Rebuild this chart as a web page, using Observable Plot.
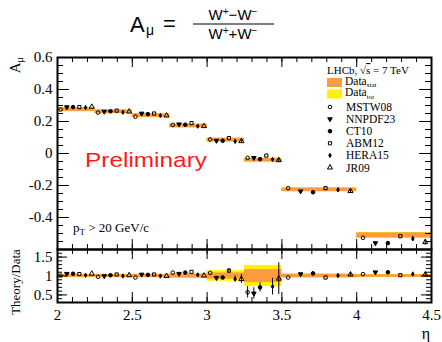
<!DOCTYPE html>
<html><head><meta charset="utf-8">
<script src="https://cdn.jsdelivr.net/npm/d3@7"></script>
<script src="https://cdn.jsdelivr.net/npm/@observablehq/plot@0.6"></script>
<style>
body{margin:0;background:#fff;}
#wrap{position:relative;width:442px;height:342px;overflow:hidden;background:#fff;}
</style></head><body><div id="wrap"></div>
<script>
// ---------- data ----------
const models = ["MSTW08","NNPDF23","CT10","ABM12","HERA15","JR09"];
const binLo = [2.0, 2.25, 2.5, 2.75, 3.0, 3.25, 3.5, 4.0];
const binHi = [2.25, 2.5, 2.75, 3.0, 3.25, 3.5, 4.0, 4.5];
const dataA = [0.274, 0.261, 0.237, 0.172, 0.084, -0.042, -0.227, -0.512];
const dataStat = [0.011, 0.011, 0.011, 0.011, 0.011, 0.011, 0.011, 0.016];
const dataTot  = [0.013, 0.013, 0.013, 0.013, 0.013, 0.013, 0.013, 0.018];
const ratioStat = [0.035, 0.035, 0.04, 0.05, 0.08, 0.17, 0.045, 0.035];
const ratioTot  = [0.045, 0.045, 0.05, 0.065, 0.14, 0.28, 0.055, 0.04];

const topMSTW08  = [0.275, 0.256, 0.230, 0.179, 0.088, -0.027, -0.217, -0.527];
const topNNPDF23 = [0.290, 0.262, 0.250, 0.183, 0.080, -0.027, -0.236, -0.560];
const topCT10    = [0.290, 0.264, 0.246, 0.180, 0.080, -0.035, -0.242, -0.560];
const topABM12   = [0.290, 0.268, 0.250, 0.190, 0.096, -0.013, -0.217, -0.517];
const topHERA15  = [0.287, 0.258, 0.237, 0.171, 0.076, -0.037, -0.227, -0.533];
const topJR09    = [0.292, 0.262, 0.237, 0.171, 0.077, -0.042, -0.235, -0.554];

const errTopNNPDF23 = [0, 0, 0, 0, 0.004, 0.004, 0.004, 0.008];
const errTopCT10    = [0, 0, 0, 0, 0.004, 0.004, 0.004, 0.008];
const errTopHERA15  = [0, 0, 0, 0, 0.006, 0.006, 0.010, 0.015];
const errTopJR09    = [0, 0, 0, 0, 0.008, 0.012, 0.012, 0.018];
const errTopNone    = [0, 0, 0, 0, 0, 0, 0, 0];

const ratMSTW08  = [1.01, 0.98, 0.96, 1.09, 1.08, 0.57, 0.96, 1.05];
const ratNNPDF23 = [1.06, 1.00, 1.04, 1.06, 0.95, 0.54, 1.05, 1.10];
const ratCT10    = [1.06, 1.02, 1.03, 1.09, 0.96, 0.70, 1.07, 1.10];
const ratABM12   = [1.05, 1.04, 1.04, 1.11, 1.14, 0.25, 0.96, 1.02];
const ratHERA15  = [1.02, 1.00, 1.00, 1.03, 0.92, 0.72, 1.01, 1.05];
const ratJR09    = [1.06, 1.02, 1.00, 1.01, 0.92, 0.93, 1.04, 1.04];

const errRatMSTW08  = [0, 0, 0, 0, 0, 0.15, 0, 0];
const errRatNNPDF23 = [0, 0, 0, 0, 0.04, 0.15, 0, 0.02];
const errRatCT10    = [0, 0, 0, 0, 0.04, 0.12, 0, 0.02];
const errRatABM12   = [0, 0, 0, 0, 0.06, 0, 0, 0];
const errRatHERA15  = [0, 0, 0, 0, 0.08, 0.22, 0.04, 0.05];
const errRatJR09    = [0, 0, 0, 0, 0.12, 0.42, 0.05, 0.06];

const xTickLabels = [2, 2.5, 3, 3.5, 4, 4.5];
const yTickLabels = [0.6, 0.4, 0.2, 0, -0.2, -0.4];
const rTickLabels = [1.5, 1, 0.5];

// ---------- tables ----------
const topVals = {MSTW08: topMSTW08, NNPDF23: topNNPDF23, CT10: topCT10, ABM12: topABM12, HERA15: topHERA15, JR09: topJR09};
const topErrs = {MSTW08: errTopNone, NNPDF23: errTopNNPDF23, CT10: errTopCT10, ABM12: errTopNone, HERA15: errTopHERA15, JR09: errTopJR09};
const ratVals = {MSTW08: ratMSTW08, NNPDF23: ratNNPDF23, CT10: ratCT10, ABM12: ratABM12, HERA15: ratHERA15, JR09: ratJR09};
const ratErrs = {MSTW08: errRatMSTW08, NNPDF23: errRatNNPDF23, CT10: errRatCT10, ABM12: errRatABM12, HERA15: errRatHERA15, JR09: errRatJR09};

const bins = binLo.map((lo, i) => ({lo, hi: binHi[i], v: dataA[i], stat: dataStat[i], tot: dataTot[i], rs: ratioStat[i], rt: ratioTot[i]}));
const points = [];
models.forEach((m, mi) => binLo.forEach((lo, i) => {
  points.push({model: m, x: lo + (mi + 0.5) * (binHi[i] - lo) / 6,
    t: topVals[m][i], te: topErrs[m][i], r: ratVals[m][i], re: ratErrs[m][i]});
}));

// ---------- styles ----------
const ORANGE = "#fd9b3f", YELLOW = "#fff200";
const modelStyle = {
  MSTW08:  {symbol: "circle",   fill: "none",  r: 1.8, rotate: 0},
  NNPDF23: {symbol: "triangle", fill: "black", r: 1.7, rotate: 180},
  CT10:    {symbol: "circle",   fill: "black", r: 1.8, rotate: 0},
  ABM12:   {symbol: "square",   fill: "none",  r: 1.8, rotate: 0},
  HERA15:  {symbol: "diamond",  fill: "black", r: 1.3, rotate: 0},
  JR09:    {symbol: "triangle", fill: "none",  r: 1.9, rotate: 0}
};
const W = 442, ML = 57, MR = 11, PW = W - ML - MR;
const fmt = d => String(d);
const steps = (a, b, s) => d3.range(0, Math.round((b - a) / s) + 1).map(i => +(a + i * s).toFixed(3));

function ticks(xMaj, xMin, yMaj, yMin, PH, xL, xl, yL, yl) {
  return [
    Plot.tickX(xMaj, {x: d => d, insetTop: PH - xL, stroke: "black"}),
    Plot.tickX(xMaj, {x: d => d, insetBottom: PH - xL, stroke: "black"}),
    Plot.tickX(xMin, {x: d => d, insetTop: PH - xl, stroke: "black"}),
    Plot.tickX(xMin, {x: d => d, insetBottom: PH - xl, stroke: "black"}),
    Plot.tickY(yMaj, {y: d => d, insetRight: PW - yL, stroke: "black"}),
    Plot.tickY(yMaj, {y: d => d, insetLeft: PW - yL, stroke: "black"}),
    Plot.tickY(yMin, {y: d => d, insetRight: PW - yl, stroke: "black"}),
    Plot.tickY(yMin, {y: d => d, insetLeft: PW - yl, stroke: "black"})
  ];
}
function dots(key, errKey, clip) {
  const out = [];
  out.push(Plot.ruleX(points.filter(p => p[errKey] > 0), {x: "x", y1: p => p[key] - p[errKey], y2: p => p[key] + p[errKey], stroke: "black", strokeWidth: 1, clip}));
  models.forEach(m => {
    const s = modelStyle[m];
    out.push(Plot.dot(points.filter(p => p.model === m), {x: "x", y: key, symbol: s.symbol, r: s.r, fill: s.fill, stroke: "black", strokeWidth: 1, rotate: s.rotate, clip}));
  });
  return out;
}

const xMaj = xTickLabels, xMin = steps(2, 4.5, 0.1);
const topPlot = Plot.plot({
  width: W, height: 250, marginTop: 57, marginBottom: 1, marginLeft: ML, marginRight: MR,
  x: {domain: [2, 4.5], axis: null, label: null}, y: {domain: [-0.6, 0.6], axis: null, label: null},
  style: {fontFamily: "Liberation Serif", background: "transparent", overflow: "visible"},
  marks: [
    Plot.rect(bins, {x1: "lo", x2: "hi", y1: d => d.v - d.tot, y2: d => d.v + d.tot, fill: YELLOW}),
    Plot.rect(bins, {x1: "lo", x2: "hi", y1: d => d.v - d.stat, y2: d => d.v + d.stat, fill: ORANGE}),
    ...dots("t", "te", false),
    ...ticks(xMaj, xMin, steps(-0.6, 0.6, 0.2), steps(-0.6, 0.6, 0.05), 192, 10, 5, 12, 6),
    Plot.frame({stroke: "black", strokeWidth: 2}),
    Plot.axisY(yTickLabels, {anchor: "left", label: null, tickSize: 0, tickPadding: 5, fontSize: 15, tickFormat: fmt})
  ]
});
const botPlot = Plot.plot({
  width: W, height: 94, marginTop: 1, marginBottom: 40, marginLeft: ML, marginRight: MR,
  x: {domain: [2, 4.5], axis: null, label: null}, y: {domain: [0.3, 1.7], axis: null, label: null},
  style: {fontFamily: "Liberation Serif", background: "transparent", overflow: "visible"},
  marks: [
    Plot.rect(bins, {x1: "lo", x2: "hi", y1: d => 1 - d.rt, y2: d => 1 + d.rt, fill: YELLOW}),
    Plot.rect(bins, {x1: "lo", x2: "hi", y1: d => 1 - d.rs, y2: d => 1 + d.rs, fill: ORANGE}),
    ...dots("r", "re", true),
    ...ticks(xMaj, xMin, rTickLabels, steps(0.3, 1.7, 0.1), 53, 10, 5, 10, 5),
    Plot.frame({stroke: "black", strokeWidth: 2}),
    Plot.axisY(rTickLabels, {anchor: "left", label: null, tickSize: 0, tickPadding: 5, fontSize: 15, tickFormat: fmt}),
    Plot.axisX(xTickLabels, {anchor: "bottom", label: null, tickSize: 0, tickPadding: 7, fontSize: 15, tickFormat: fmt})
  ]
});
const wrap = document.getElementById("wrap");
[topPlot, botPlot].forEach((el, i) => {
  el.style.position = "absolute"; el.style.left = "0px"; el.style.top = (i ? 248 : 0) + "px";
  wrap.appendChild(el);
});

// ---------- annotations ----------
const ov = d3.create("svg").attr("width", W).attr("height", 342)
  .style("position", "absolute").style("left", "0px").style("top", "0px")
  .style("font-family", "Liberation Serif").style("pointer-events", "none");
// title
const tg = ov.append("g").style("font-family", "Liberation Sans").attr("fill", "black");
tg.append("text").attr("x", 130).attr("y", 32).attr("font-size", 22).text("A");
tg.append("text").attr("x", 146).attr("y", 35).attr("font-size", 14).text("μ");
tg.append("text").attr("x", 163).attr("y", 31).attr("font-size", 22).text("=");
function wpm(g, y, op) {
  const t = g.append("text").attr("x", 233).attr("y", y).attr("text-anchor", "middle").attr("font-size", 15);
  t.append("tspan").text("W");
  t.append("tspan").attr("dy", -5).attr("font-size", 10).text("+");
  t.append("tspan").attr("dy", 5).text(op);
  t.append("tspan").text("W");
  t.append("tspan").attr("dy", -5).attr("font-size", 10).text("−");
}
wpm(tg, 20, "−");
tg.append("line").attr("x1", 193).attr("x2", 274).attr("y1", 24).attr("y2", 24).attr("stroke", "black").attr("stroke-width", 1);
wpm(tg, 39, "+");
// axis labels
const ya = ov.append("text").attr("transform", "translate(20,57) rotate(-90)").attr("text-anchor", "end").attr("font-size", 15);
ya.append("tspan").text("A");
ya.append("tspan").attr("dy", 3).attr("font-size", 10).text("μ");
ov.append("text").attr("transform", "translate(20,282) rotate(-90)").attr("text-anchor", "middle").attr("font-size", 13).text("Theory/Data");
ov.append("text").attr("x", 430).attr("y", 339).attr("text-anchor", "end").attr("font-size", 16).text("η");
// Preliminary
ov.append("text").attr("x", 85).attr("y", 167).attr("font-size", 21).attr("fill", "#ff1a1a")
  .attr("textLength", 122).attr("lengthAdjust", "spacingAndGlyphs")
  .style("font-family", "Liberation Sans").text("Preliminary");
// pT cut
const pt = ov.append("text").attr("x", 73).attr("y", 232).attr("font-size", 13);
pt.append("tspan").text("p");
pt.append("tspan").attr("dy", 3).attr("font-size", 9).text("T");
pt.append("tspan").attr("dy", -3).text(" > 20 GeV/c");
// legend
const lg = ov.append("g").attr("font-size", 11.5);
const lh = lg.append("text").attr("x", 327).attr("y", 74).attr("font-size", 11);
lh.append("tspan").text("LHCb,  ");
lh.append("tspan").text("√");
lh.append("tspan").style("text-decoration", "overline").text("s");
lh.append("tspan").text(" = 7 TeV");
[["stat", ORANGE, 82.5], ["tot", YELLOW, 94]].forEach(([sub, col, cy]) => {
  lg.append("rect").attr("x", 327).attr("y", cy - 4.5).attr("width", 15).attr("height", 9).attr("fill", col);
  const t = lg.append("text").attr("x", 345).attr("y", cy + 2);
  t.append("tspan").text("Data");
  t.append("tspan").attr("dy", 2.5).attr("font-size", 7).text(sub);
});
models.forEach((m, i) => {
  const cy = 107 + i * 12.1, s = modelStyle[m];
  const sym = {circle: d3.symbolCircle, triangle: d3.symbolTriangle, square: d3.symbolSquare, diamond: d3.symbolDiamond}[s.symbol];
  lg.append("path").attr("d", d3.symbol(sym, Math.PI * s.r * s.r)())
    .attr("transform", `translate(330,${cy}) rotate(${s.rotate})`)
    .attr("fill", s.fill).attr("stroke", "black").attr("stroke-width", 1);
  lg.append("text").attr("x", 346).attr("y", cy + 4).text(m);
});
wrap.appendChild(ov.node());
</script></body></html>
